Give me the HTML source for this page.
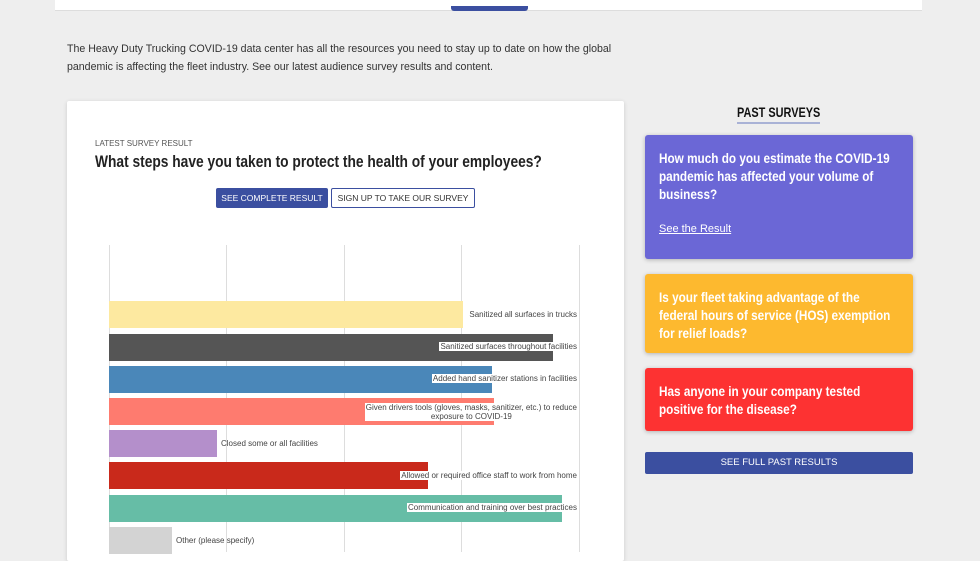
<!DOCTYPE html>
<html><head><style>
body{margin:0;width:980px;height:552px;background:#eeeeee;font-family:"Liberation Sans",sans-serif;position:relative;overflow:hidden;color:#333}
.a{position:absolute}
.cond{font-weight:bold;display:inline-block;transform-origin:left top;white-space:nowrap}
.bar{position:absolute;left:109px;height:27px}
.lbl{position:absolute;right:402px;font-size:8px;color:#444;background:#fff;padding:0 1px;line-height:9px;text-align:center}
.lbl.out{background:none;right:auto}
.grid{position:absolute;top:245px;bottom:0;width:1px;background:#ddd}
.card{position:absolute;left:645px;width:268px;border-radius:3px;box-shadow:0 1px 4px rgba(0,0,0,.25);color:#fff}
.card .t{position:absolute;left:14px;top:14px;font-size:14px;line-height:18px;font-weight:bold;transform:scaleX(.84);transform-origin:left top;width:276px}
</style></head><body>
<div class="a" style="left:55px;top:0;width:867px;height:10px;background:#fff;border-bottom:1px solid #ddd"></div>
<div class="a" style="left:451px;top:6px;width:77px;height:5px;background:#3b4fa0;border-radius:0 0 3px 3px"></div>
<div class="a" style="left:67px;top:40px;font-size:10.6px;line-height:18px;color:#333;width:565px">The Heavy Duty Trucking COVID-19 data center has all the resources you need to stay up to date on how the global pandemic is affecting the fleet industry. See our latest audience survey results and content.</div>
<div class="a" style="left:67px;top:101px;width:557px;height:460px;background:#fff;box-shadow:0 1px 4px rgba(0,0,0,.15);border-radius:2px"></div>
<div class="a" style="left:95px;top:139px;font-size:8px;color:#555">LATEST SURVEY RESULT</div>
<div class="a" style="left:95px;top:152px"><span class="cond" style="font-size:17px;color:#222;transform:scaleX(.81)">What steps have you taken to protect the health of your employees?</span></div>
<div class="a" style="left:216px;top:188px;width:112px;height:20px;background:#3b4fa0;border-radius:2px;color:#fff;font-size:8.5px;line-height:20px;text-align:center">SEE COMPLETE RESULT</div>
<div class="a" style="left:331px;top:188px;width:142px;height:18px;border:1px solid #3b4fa0;border-radius:2px;background:#fff;color:#333;font-size:8.5px;line-height:18px;text-align:center">SIGN UP TO TAKE OUR SURVEY</div>
<div class="grid" style="left:109px"></div><div class="grid" style="left:226px"></div><div class="grid" style="left:344px"></div><div class="grid" style="left:461px"></div><div class="grid" style="left:579px"></div>
<div class="bar" style="top:301px;width:354px;background:#fde9a0"></div>
<div class="bar" style="top:334px;width:444px;background:#555"></div>
<div class="bar" style="top:366px;width:383px;background:#4a87b9"></div>
<div class="bar" style="top:398px;width:385px;background:#fe7b6f"></div>
<div class="bar" style="top:430px;width:108px;background:#b48fcb"></div>
<div class="bar" style="top:462px;width:319px;background:#c9291b"></div>
<div class="bar" style="top:495px;width:453px;background:#66bda6"></div>
<div class="bar" style="top:527px;width:63px;background:#d3d3d3"></div>
<div class="lbl" style="top:310px;background:none">Sanitized all surfaces in trucks</div>
<div class="lbl" style="top:342px">Sanitized surfaces throughout facilities</div>
<div class="lbl" style="top:374px">Added hand sanitizer stations in facilities</div>
<div class="lbl" style="top:403px">Given drivers tools (gloves, masks, sanitizer, etc.) to reduce<br>exposure to COVID-19</div>
<div class="lbl out" style="top:439px;left:220px">Closed some or all facilities</div>
<div class="lbl" style="top:471px">Allowed or required office staff to work from home</div>
<div class="lbl" style="top:503px">Communication and training over best practices</div>
<div class="lbl out" style="top:536px;left:175px">Other (please specify)</div>
<div class="a" style="left:737px;top:104px;width:83px;height:18px;border-bottom:2px solid #a9b2d6"><span class="cond" style="font-size:14px;color:#111;transform:scaleX(.78)">PAST SURVEYS</span></div>
<div class="card" style="top:135px;height:124px;background:#6b67d6"><div class="t">How much do you estimate the COVID-19 pandemic has affected your volume of business?</div><div class="a" style="left:14px;top:88px;font-size:11px;text-decoration:underline">See the Result</div></div>
<div class="card" style="top:274px;height:79px;background:#fdb92f"><div class="t">Is your fleet taking advantage of the federal hours of service (HOS) exemption for relief loads?</div></div>
<div class="card" style="top:368px;height:63px;background:#fd3232"><div class="t">Has anyone in your company tested positive for the disease?</div></div>
<div class="a" style="left:645px;top:452px;width:268px;height:22px;background:#3b4fa0;border-radius:2px;color:#fff;font-size:9.5px;line-height:22px;text-align:center">SEE FULL PAST RESULTS</div>
</body></html>
